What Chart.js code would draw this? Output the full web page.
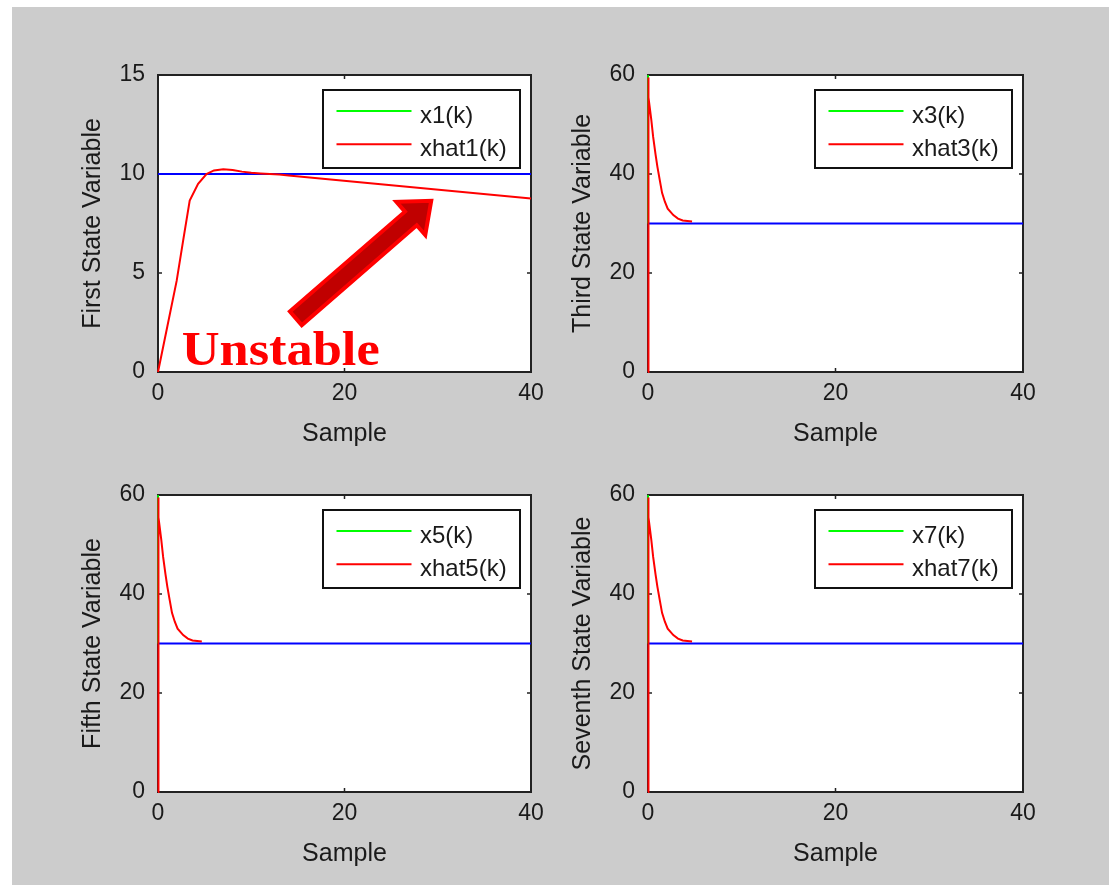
<!DOCTYPE html>
<html>
<head>
<meta charset="utf-8">
<title>State estimates</title>
<script src="https://cdn.jsdelivr.net/npm/chart.js@4.4.1/dist/chart.umd.min.js"></script>
<style>
  body { margin: 0; width: 1109px; height: 885px; overflow: hidden; position: relative; background: #ffffff; }
  #panel { position: absolute; left: 12px; top: 7px; right: 0; bottom: 0; background: #cccccc; }
  canvas { position: absolute; }
</style>
</head>
<body>
<div id="panel"></div>
<canvas id="first"></canvas>
<canvas id="third"></canvas>
<canvas id="fifth"></canvas>
<canvas id="seventh"></canvas>
<script>
// tick labels
const sampleTicks = [0, 20, 40];
const firstTicks = [0, 5, 10, 15];
const otherTicks = [0, 20, 40, 60];

// first state: estimate climbs, overshoots, then drifts off the true value
const firstK = [0, 1, 2, 2.7, 3.4, 4.3, 5.2, 6, 7, 8, 9, 10, 11, 12, 13, 14, 40];
const xhat1 = [0, 2.3, 4.6, 6.65, 8.66, 9.5, 10.0, 10.18, 10.24, 10.2, 10.12, 10.06, 10.03, 10.0, 9.97, 9.93, 8.76];
const x1K = [0, 40];
const x1 = [10, 10];

// third, fifth and seventh states all settle the same way
const settleK = [0, 0, 0.1, 0.35, 0.55, 0.8, 1.0, 1.25, 1.5, 1.8, 2.1, 2.7, 3.2, 3.7, 4.7];
const xhatSettle = [0, 59.5, 55.5, 51, 47.5, 44, 41.5, 38.8, 36.2, 34.4, 33, 31.7, 31, 30.6, 30.4];
const xSettleK = [0, 0.02, 40];
const xSettle = [60, 30, 30];
const trueLevelK = [0, 40];
const trueLevel = [30, 30];

Chart.defaults.font.family = '"Liberation Sans", Arial, sans-serif';
Chart.defaults.color = '#1a1a1a';

function series(ks, vs) {
  return ks.map((k, i) => ({ x: k, y: vs[i] }));
}

// white plot box, black frame and small inward ticks on every side
const framePlugin = {
  id: 'frame',
  beforeDraw(chart) {
    const { ctx, chartArea: a } = chart;
    ctx.save();
    ctx.fillStyle = '#ffffff';
    ctx.fillRect(a.left, a.top, a.right - a.left, a.bottom - a.top);
    ctx.restore();
  },
  beforeDatasetsDraw(chart) {
    const { ctx, chartArea: a, scales } = chart;
    ctx.save();
    ctx.strokeStyle = '#222222';
    ctx.lineWidth = 2;
    ctx.strokeRect(a.left, a.top, a.right - a.left, a.bottom - a.top);
    ctx.lineWidth = 1.5;
    ctx.beginPath();
    scales.x.ticks.forEach(t => {
      const px = scales.x.getPixelForValue(t.value);
      ctx.moveTo(px, a.bottom); ctx.lineTo(px, a.bottom - 4);
      ctx.moveTo(px, a.top); ctx.lineTo(px, a.top + 4);
    });
    scales.y.ticks.forEach(t => {
      const py = scales.y.getPixelForValue(t.value);
      ctx.moveTo(a.left, py); ctx.lineTo(a.left + 4, py);
      ctx.moveTo(a.right, py); ctx.lineTo(a.right - 4, py);
    });
    ctx.stroke();
    ctx.restore();
  }
};

// boxed legend in the upper right of the plot
const boxLegend = {
  id: 'boxLegend',
  afterDatasetsDraw(chart) {
    const { ctx, chartArea: a } = chart;
    const items = chart.data.datasets.filter(d => d.inLegend !== false);
    const w = 197, h = 78;
    const left = a.right - 11 - w, top = a.top + 15;
    ctx.save();
    ctx.fillStyle = '#ffffff';
    ctx.fillRect(left, top, w, h);
    ctx.strokeStyle = '#111111';
    ctx.lineWidth = 2;
    ctx.strokeRect(left, top, w, h);
    ctx.font = '24px "Liberation Sans", Arial, sans-serif';
    ctx.textBaseline = 'middle';
    ctx.fillStyle = '#1a1a1a';
    items.forEach((d, i) => {
      const y = top + 21 + i * 33.3;
      ctx.strokeStyle = d.borderColor;
      ctx.lineWidth = 2;
      ctx.beginPath();
      ctx.moveTo(left + 13.5, y);
      ctx.lineTo(left + 88.5, y);
      ctx.stroke();
      ctx.fillText(d.label, left + 97, y + 5);
    });
    ctx.restore();
  }
};

// arrow and note on the first state plot
const arrowFrom = [14.78, 2.71];
const arrowTo = [29.3, 8.65];
const noteAt = [2.54, 0.35];
const unstableNote = {
  id: 'unstableNote',
  afterDatasetsDraw(chart, args, opts) {
    if (!opts.show) return;
    const { ctx, scales: { x, y } } = chart;
    const x0 = x.getPixelForValue(arrowFrom[0]), y0 = y.getPixelForValue(arrowFrom[1]);
    const x1p = x.getPixelForValue(arrowTo[0]), y1p = y.getPixelForValue(arrowTo[1]);
    const len = Math.hypot(x1p - x0, y1p - y0);
    const ux = (x1p - x0) / len, uy = (y1p - y0) / len;
    const nx = -uy, ny = ux;
    const sw = 9, hw = 22, hl = 27;
    const bx = x1p - ux * hl, by = y1p - uy * hl;
    const pts = [
      [x0 + nx * sw, y0 + ny * sw],
      [bx + nx * sw, by + ny * sw],
      [bx + nx * hw, by + ny * hw],
      [x1p, y1p],
      [bx - nx * hw, by - ny * hw],
      [bx - nx * sw, by - ny * sw],
      [x0 - nx * sw, y0 - ny * sw]
    ];
    ctx.save();
    ctx.beginPath();
    pts.forEach((p, i) => i ? ctx.lineTo(p[0], p[1]) : ctx.moveTo(p[0], p[1]));
    ctx.closePath();
    ctx.fillStyle = '#c00000';
    ctx.fill();
    ctx.strokeStyle = '#ff0000';
    ctx.lineWidth = 4;
    ctx.lineJoin = 'miter';
    ctx.stroke();

    ctx.font = 'bold 49px "Liberation Serif", "DejaVu Serif", serif';
    ctx.fillStyle = '#ff0000';
    ctx.textBaseline = 'alphabetic';
    const text = 'Unstable';
    const sx = 198 / ctx.measureText(text).width;
    ctx.translate(x.getPixelForValue(noteAt[0]), y.getPixelForValue(noteAt[1]));
    ctx.scale(sx, 1);
    ctx.fillText(text, 0, 0);
    ctx.restore();
  }
};

function makePanel(id, area, yTicks, yTitle, datasets, note) {
  const canvas = document.getElementById(id);
  const padLeft = 98, padTop = 35, padBottom = 98;
  const w = 500;
  const h = (area.bottom - area.top) + padTop + padBottom;
  canvas.width = w;
  canvas.height = h;
  canvas.style.left = (area.left - padLeft) + 'px';
  canvas.style.top = (area.top - padTop) + 'px';

  new Chart(canvas, {
    type: 'line',
    data: { datasets },
    plugins: [framePlugin, boxLegend, unstableNote],
    options: {
      responsive: false,
      animation: false,
      layout: { padding: { left: 0, top: padTop, right: w - padLeft - (area.right - area.left), bottom: 0 } },
      elements: { point: { radius: 0 }, line: { borderWidth: 2, tension: 0 } },
      plugins: {
        legend: { display: false },
        tooltip: { enabled: false },
        unstableNote: { show: note }
      },
      scales: {
        x: {
          type: 'linear',
          min: sampleTicks[0],
          max: sampleTicks[sampleTicks.length - 1],
          afterBuildTicks: s => { s.ticks = sampleTicks.map(v => ({ value: v })); },
          afterFit: s => { s.height = padBottom; },
          grid: { display: false, drawTicks: false },
          border: { display: false },
          ticks: { font: { size: 23 }, padding: 8, maxRotation: 0 },
          title: { display: true, text: 'Sample', font: { size: 25 }, padding: { top: 0, bottom: 21 } }
        },
        y: {
          type: 'linear',
          min: yTicks[0],
          max: yTicks[yTicks.length - 1],
          afterBuildTicks: s => { s.ticks = yTicks.map(v => ({ value: v })); },
          afterFit: s => { s.width = padLeft; },
          grid: { display: false, drawTicks: false },
          border: { display: false },
          ticks: { font: { size: 23 }, padding: 13 },
          title: { display: true, text: yTitle, font: { size: 25 }, padding: { top: 18, bottom: 0 } }
        }
      }
    }
  });
}

// the true state sits underneath the blue reference line, so keep it thin
function settleSets(n) {
  return [
    { label: 'x' + n + '(k)', data: series(xSettleK, xSettle), borderColor: '#00ff00', borderWidth: 1, order: 2, clip: 4 },
    { label: 'xhat' + n + '(k)', data: series(settleK, xhatSettle), borderColor: '#ff0000', order: 0, clip: 4 },
    { label: 'x' + n, data: series(trueLevelK, trueLevel), borderColor: '#0000ff', order: 1, clip: 4, inLegend: false }
  ];
}

makePanel('first', { left: 158, top: 75, right: 531, bottom: 372 }, firstTicks, 'First State Variable', [
  { label: 'x1(k)', data: series(x1K, x1), borderColor: '#00ff00', borderWidth: 1, order: 2, clip: 4 },
  { label: 'xhat1(k)', data: series(firstK, xhat1), borderColor: '#ff0000', order: 0, clip: 4 },
  { label: 'x1', data: series(x1K, x1), borderColor: '#0000ff', order: 1, clip: 4, inLegend: false }
], true);
makePanel('third', { left: 648, top: 75, right: 1023, bottom: 372 }, otherTicks, 'Third State Variable', settleSets(3), false);
makePanel('fifth', { left: 158, top: 495, right: 531, bottom: 792 }, otherTicks, 'Fifth State Variable', settleSets(5), false);
makePanel('seventh', { left: 648, top: 495, right: 1023, bottom: 792 }, otherTicks, 'Seventh State Variable', settleSets(7), false);
</script>
</body>
</html>
